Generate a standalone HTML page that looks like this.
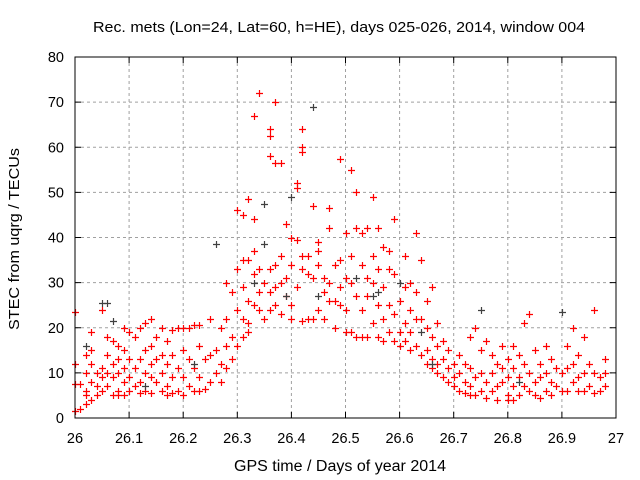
<!DOCTYPE html>
<html><head><meta charset="utf-8"><style>body{margin:0;background:#fff}svg{display:block;font-family:"Liberation Sans",sans-serif}</style></head>
<body>
<svg id="chart" width="640" height="480">
<rect width="640" height="480" fill="#fff"/>
<g id="grid"></g>
<g id="ticks"></g>
<g id="marks"></g>
<rect x="75" y="57" width="541" height="361" fill="none" stroke="#000" stroke-width="1"/>
<text x="339" y="32" font-size="14.5" text-anchor="middle" textLength="492" lengthAdjust="spacingAndGlyphs">Rec. mets (Lon=24, Lat=60, h=HE), days 025-026, 2014, window 004</text>
<text x="340" y="471" font-size="15.5" text-anchor="middle" textLength="212" lengthAdjust="spacingAndGlyphs">GPS time / Days of year 2014</text>
<text transform="translate(19,239) rotate(-90)" font-size="14.5" text-anchor="middle" textLength="182" lengthAdjust="spacingAndGlyphs">STEC from uqrg / TECUs</text>
</svg>
<script>
const xTicks=[26,26.1,26.2,26.3,26.4,26.5,26.6,26.7,26.8,26.9,27];
const xTickLabels=["26","26.1","26.2","26.3","26.4","26.5","26.6","26.7","26.8","26.9","27"];
const yTicks=[0,10,20,30,40,50,60,70,80];
const redX=[26.0,26.0,26.0,26.0,26.01,26.01,26.02,26.02,26.02,26.02,26.02,26.03,26.03,26.03,26.03,26.03,26.04,26.04,26.04,26.05,26.05,26.05,26.05,26.06,26.06,26.06,26.06,26.07,26.07,26.07,26.07,26.08,26.08,26.08,26.08,26.08,26.09,26.09,26.09,26.09,26.09,26.1,26.1,26.1,26.1,
26.11,26.11,26.11,26.12,26.12,26.12,26.12,26.13,26.13,26.13,26.13,26.14,26.14,26.14,26.14,26.14,26.15,26.15,26.15,26.16,26.16,26.16,26.16,26.17,26.17,26.17,26.17,26.18,26.18,26.18,26.18,26.19,26.19,26.19,26.2,26.2,26.2,26.2,
26.21,26.21,26.21,26.22,26.22,26.22,26.23,26.23,26.23,26.23,26.24,26.24,26.25,26.25,26.25,26.26,26.26,26.27,26.27,26.27,26.28,26.28,26.28,26.28,26.29,26.29,26.29,26.3,26.3,26.3,26.3,
26.31,26.31,26.31,26.31,26.31,26.32,26.32,26.32,26.32,26.32,26.33,26.33,26.33,26.33,26.33,26.34,26.34,26.34,26.34,26.35,26.35,26.36,26.36,26.36,26.36,26.36,26.36,26.37,26.37,26.37,26.37,26.37,26.38,26.38,26.38,26.38,26.39,26.39,26.39,26.4,26.4,26.4,26.4,
26.41,26.41,26.41,26.41,26.42,26.42,26.42,26.42,26.42,26.42,26.43,26.43,26.43,26.44,26.44,26.44,26.45,26.45,26.45,26.45,26.46,26.46,26.46,26.47,26.47,26.47,26.47,26.48,26.48,26.48,26.49,26.49,26.49,26.49,26.5,26.5,26.5,26.5,
26.51,26.51,26.51,26.51,26.52,26.52,26.52,26.52,26.53,26.53,26.53,26.53,26.54,26.54,26.54,26.54,26.55,26.55,26.55,26.55,26.56,26.56,26.56,26.56,26.57,26.57,26.57,26.57,26.58,26.58,26.58,26.58,26.59,26.59,26.59,26.59,26.6,26.6,26.6,
26.61,26.61,26.61,26.61,26.62,26.62,26.62,26.62,26.63,26.63,26.63,26.63,26.64,26.64,26.64,26.65,26.65,26.65,26.65,26.66,26.66,26.66,26.66,26.67,26.67,26.67,26.67,26.68,26.68,26.68,26.69,26.69,26.69,26.7,26.7,26.7,
26.71,26.71,26.71,26.72,26.72,26.72,26.73,26.73,26.73,26.73,26.74,26.74,26.74,26.75,26.75,26.75,26.76,26.76,26.76,26.77,26.77,26.77,26.78,26.78,26.78,26.79,26.79,26.79,26.8,26.8,26.8,26.8,
26.81,26.81,26.81,26.81,26.82,26.82,26.82,26.83,26.83,26.83,26.84,26.84,26.84,26.85,26.85,26.85,26.86,26.86,26.86,26.87,26.87,26.87,26.88,26.88,26.88,26.89,26.89,26.9,26.9,
26.91,26.91,26.91,26.92,26.92,26.92,26.93,26.93,26.93,26.94,26.94,26.94,26.95,26.95,26.96,26.96,26.96,26.97,26.97,26.98,26.98,26.98];
const redY=[23.5,12,7.5,1.5,7.5,2,14,10,6,5,3,19,15,12,8,4,10,7,5,24,11,9,6,18,14,10,7,17,12,9,5,16,13,10,6,5,20,15,11,8,5,19,13,9,6,
18,11,7,20,13,8,5.5,21,15,10,6,22,16,12,9,5.5,18,13,8,20,14,10,6,17,12,7,5,19.5,14,9,5.5,20,11,6,20,15,9,5,
20,13,7,20.5,11,6,20.5,16,9,6,13,6.5,22,14,8,15,10,20,12,8,30,22,16,11,28,18,13,46,33,24,16,
45,35,29,22,18,48.5,35,26,21,19,67,44,37,32,25,72,33,28,24,30,22,64,62.5,58,33,28,24,70,56.5,34,29,25,56.5,36,30,23,43,31,27,40,34,25,22,
52,51,39.5,29,64,60,59,36,33,21.5,36,32,22,47,31,22,39,37,34,24,31,28,22,46.5,42,30,26,34,26,20,57.5,35,29,25,41,31,24,19,
55,36,30,19,50,42,27,18,41,34,24,18,42,31,27,18,49,36,30,21,42,33,25,18,38,29,22,17,37,33,25,19,44,32,23,17,26,19,16,
36,29,21,17,30,24,19,15,41,28,22,16,35,22,14,26,20,15,12,29,18,13,11,21,16,12,10,17,13,9,15,11,8,12,9,7,
14,10,6,12,8,5.5,18,11,7,5,20,9,5,15,10,6,17,8,4.5,14,10,6,12,7,4,16,11,8,13,9,5,4,
16,11,7,4,14,9,5,21,12,7,23,10,6,15,8,5,12,9,4.5,16,10,6,13,8,5,11,7,10,6,
16,11,6,20,12,8,14,9,6,18,10,6,12,7,24,10,5.5,9,6,13,10,7];
const grayX=[26.02,26.05,26.07,26.06,26.26,26.33,26.35,26.35,26.4,26.44,26.45,26.52,26.55,26.6,26.64,26.75,26.9,26.13,26.22,26.39,26.56,26.66,26.82];
const grayY=[16,25.5,21.5,25.5,38.5,30,38.5,47.5,49,69,27,31,27,30,19,24,23.5,7,12,27,28,12,8];

const X0=75,X1=616,Y0=418,Y1=57;
const sx=v=>X0+(v-26)*(X1-X0);
const sy=v=>Y0-v/80*(Y0-Y1);
const NS="http://www.w3.org/2000/svg";
function mk(tag,attrs,parent){const e=document.createElementNS(NS,tag);for(const k in attrs)e.setAttribute(k,attrs[k]);parent.appendChild(e);return e;}
const grid=document.getElementById('grid'),ticks=document.getElementById('ticks'),marks=document.getElementById('marks');
xTicks.forEach((t,i)=>{
  const x=sx(t);
  if(i>0&&i<xTicks.length-1){const g=mk('line',{x1:x,x2:x,y1:Y1,y2:Y0,stroke:'#a0a0a0','stroke-dasharray':'3,3'},grid);
  
  }
  mk('line',{x1:x,x2:x,y1:Y0,y2:Y0-6,stroke:'#000'},ticks);
  mk('line',{x1:x,x2:x,y1:Y1,y2:Y1+6,stroke:'#000'},ticks);
  const l=mk('text',{x:x,y:443,'font-size':14.5,'text-anchor':'middle'},ticks);l.textContent=xTickLabels[i];
  
  
});
yTicks.forEach((t,i)=>{
  const y=sy(t);
  if(i>0&&i<yTicks.length-1){const g=mk('line',{x1:X0,x2:X1,y1:y,y2:y,stroke:'#a0a0a0','stroke-dasharray':'3,3'},grid);
  
  }
  mk('line',{x1:X0,x2:X0+6,y1:y,y2:y,stroke:'#000'},ticks);
  mk('line',{x1:X1,x2:X1-6,y1:y,y2:y,stroke:'#000'},ticks);
  const l=mk('text',{x:64,y:y+5,'font-size':14.5,'text-anchor':'end'},ticks);l.textContent=String(t);
  
  
});
function plus(x,y,c){
  const p=mk('path',{d:`M${x-3.5},${y}h7M${x},${y-3.5}v7`,stroke:c,'stroke-width':1.2,fill:'none'},marks);
  
  
}
redX.forEach((v,i)=>plus(Math.round(sx(v))+0.5,Math.round(sy(redY[i]))+0.5,'#ff0000'));
grayX.forEach((v,i)=>plus(Math.round(sx(v))+0.5,Math.round(sy(grayY[i]))+0.5,'#404040'));
</script>
</body></html>
